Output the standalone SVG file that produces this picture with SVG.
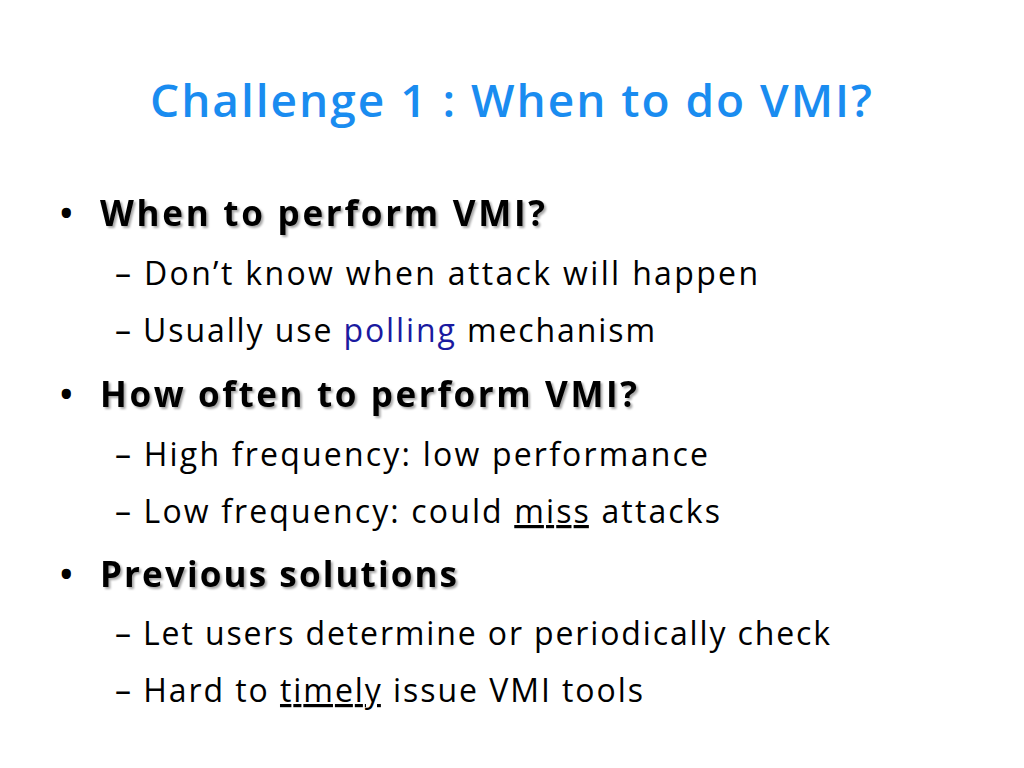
<svg xmlns="http://www.w3.org/2000/svg" width="1024" height="768" viewBox="0 0 1024 768">
<defs>
<filter id="sh" x="-5%" y="-20%" width="110%" height="140%"><feDropShadow dx="2" dy="2" stdDeviation="0.8" flood-color="#000" flood-opacity="0.35"/></filter>
</defs>
<style>
text{font-family:"Open Sans",Lato,"Liberation Sans",sans-serif;fill:#000}
.t{fill:#1a8cf0;font-size:46px;font-weight:600}
.h{font-size:35px;font-weight:bold;filter:url(#sh)}
.s{font-size:32px}
.b{font-size:44px}
</style>
<rect width="1024" height="768" fill="#fff"/>
<text class="t" x="150" y="117" textLength="722" lengthAdjust="spacing">Challenge 1 : When to do VMI?</text>
<g id="b1">
<text class="b" x="58" y="229">•</text>
<text class="h" x="100" y="226" textLength="445" lengthAdjust="spacing">When to perform VMI?</text>
<text class="s" x="115" y="285" textLength="643" lengthAdjust="spacing">– Don’t know when attack will happen</text>
<text class="s" x="115" y="342" textLength="540" lengthAdjust="spacing">– Usually use <tspan fill="#1a1aa0">polling</tspan> mechanism</text>
</g>
<g id="b2">
<text class="b" x="58" y="410">•</text>
<text class="h" x="100" y="407" textLength="537" lengthAdjust="spacing">How often to perform VMI?</text>
<text class="s" x="115" y="466" textLength="593" lengthAdjust="spacing">– High frequency: low performance</text>
<text class="s" x="115" y="523" textLength="605" lengthAdjust="spacing">– Low frequency: could <tspan text-decoration="underline">miss</tspan> attacks</text>
</g>
<g id="b3">
<text class="b" x="58" y="590">•</text>
<text class="h" x="100" y="587" textLength="357" lengthAdjust="spacing">Previous solutions</text>
<text class="s" x="115" y="645" textLength="715" lengthAdjust="spacing">– Let users determine or periodically check</text>
<text class="s" x="115" y="702" textLength="528" lengthAdjust="spacing">– Hard to <tspan text-decoration="underline">timely</tspan> issue VMI tools</text>
</g>
</svg>
